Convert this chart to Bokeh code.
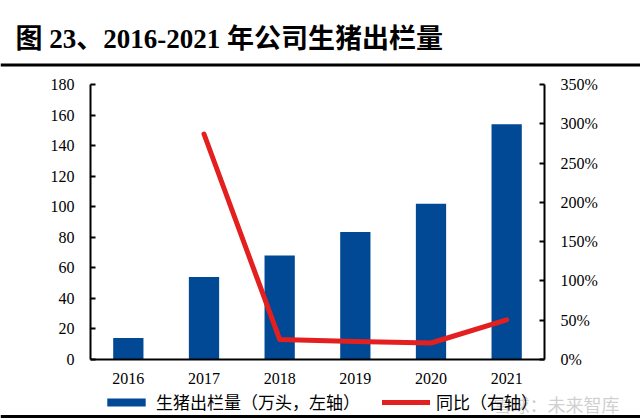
from bokeh.plotting import figure
from bokeh.models import (Range1d, LinearAxis, Legend, LegendItem, Label, BoxAnnotation,
                          PrintfTickFormatter, FixedTicker, ColumnDataSource)
from bokeh.embed import file_html
from bokeh.resources import INLINE

years = ["2016", "2017", "2018", "2019", "2020", "2021"]
output = [14, 54, 68, 83.5, 102, 154]          # 万头
yoy_years = ["2017", "2018", "2019", "2020", "2021"]
yoy = [287, 25.5, 23, 21, 50.5]                # %
left_ticks = [0, 20, 40, 60, 80, 100, 120, 140, 160, 180]
right_ticks = [0, 50, 100, 150, 200, 250, 300, 350]
title_text = "图 23、2016-2021 年公司生猪出栏量"
legend_labels = ["生猪出栏量（万头，左轴）", "同比（右轴）"]
watermark = "雪球：未来智库"

SERIF = "Liberation Serif"
CJK = "Noto Sans CJK SC"
BLUE = "#014995"
RED = "#E3201F"

# ---- layout geometry (canvas pixels) ----
W, H = 640, 419
PL, PR, PT, PB = 90, 544, 84, 359          # chart box on the canvas
n = len(years)
step = (PR - PL) / n
ppu = (PB - PT) / left_ticks[-1]
ppu2 = (PB - PT) / right_ticks[-1]

def px2x(px):
    return -0.5 + (px - PL) / step

def py2y(py):
    return (PB - py) / ppu

xs = list(range(n))
idx = {y: i for i, y in enumerate(years)}
line_x = [idx[y] for y in yoy_years]

p = figure(width=W, height=H, output_backend="svg", toolbar_location=None,
           x_axis_type=None, y_axis_type=None,
           x_range=Range1d(px2x(0), px2x(W)),
           y_range=Range1d(py2y(H), py2y(0)),
           min_border=0, min_border_left=0, min_border_right=0,
           min_border_top=0, min_border_bottom=0)
p.title_location = None
p.outline_line_color = None
p.background_fill_color = "white"
p.border_fill_color = "white"
p.extra_y_ranges = {"pct": Range1d(-(H - PB) / ppu2, right_ticks[-1] + PT / ppu2)}

src = ColumnDataSource(dict(x=xs, y=output))
bars = p.vbar(x="x", top="y", width=0.4, source=src, fill_color=BLUE, line_color=None)
lsrc = ColumnDataSource(dict(x=line_x, y=yoy))
line = p.line(x="x", y="y", source=lsrc, y_range_name="pct", line_color=RED, line_width=5,
              line_cap="round", line_join="round")

def style_axis(a):
    a.axis_line_width = 2
    a.axis_line_color = "black"
    a.major_tick_line_width = 2
    a.major_tick_in = 5
    a.major_tick_out = 0
    a.minor_tick_line_color = None
    a.major_label_standoff = 16
    a.major_label_text_font = SERIF
    a.major_label_text_font_size = "16px"
    a.major_label_text_color = "black"

la = LinearAxis(ticker=FixedTicker(ticks=left_ticks), fixed_location=-0.5,
                bounds=(left_ticks[0], left_ticks[-1]))
style_axis(la)
p.add_layout(la, "left")

ra = LinearAxis(y_range_name="pct", ticker=FixedTicker(ticks=right_ticks),
                formatter=PrintfTickFormatter(format="%d%%"), fixed_location=n - 0.5,
                bounds=(right_ticks[0], right_ticks[-1]))
style_axis(ra)
p.add_layout(ra, "right")

xa = LinearAxis(ticker=FixedTicker(ticks=xs), fixed_location=0,
                bounds=(-0.5, n - 0.5),
                major_label_overrides={i: y for i, y in enumerate(years)})
style_axis(xa)
xa.major_tick_line_color = None
xa.major_label_standoff = 13
p.add_layout(xa, "below")

# title and rules
p.add_layout(Label(x=px2x(15), y=py2y(38), text=title_text,
                   text_font=f"{SERIF}, {CJK}", text_font_style="bold", text_font_size="27px",
                   text_color="black", text_baseline="middle", text_align="left"))
for top in (63, 414.5):
    p.add_layout(BoxAnnotation(left=px2x(0), right=px2x(W), top=py2y(top), bottom=py2y(top + 3),
                               fill_color="black", fill_alpha=1, line_color=None))

# watermark (drawn beneath the legend)
p.add_layout(Label(x=px2x(493), y=py2y(403), text=watermark,
                   text_font=CJK, text_font_size="18px", text_color="#c4c4c4",
                   text_alpha=0.8, text_baseline="middle", text_align="left"))

# legend
legend = Legend(items=[LegendItem(label=legend_labels[0], renderers=[bars]),
                       LegendItem(label=legend_labels[1], renderers=[line])],
                orientation="horizontal", location=(102, 5),
                glyph_width=48, glyph_height=10, label_standoff=6, spacing=22,
                padding=0, margin=0, border_line_color=None, background_fill_alpha=0,
                label_text_font=CJK, label_text_font_size="17px", label_text_color="black")
p.add_layout(legend, "center")

open("out.html", "w").write(file_html(p, INLINE))
